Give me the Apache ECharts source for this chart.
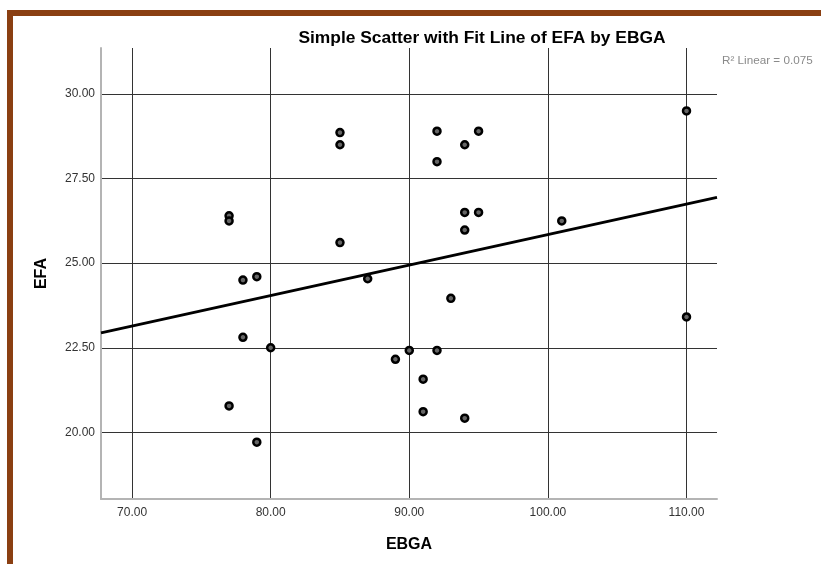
<!DOCTYPE html>
<html>
<head>
<meta charset="utf-8">
<script src="https://cdn.jsdelivr.net/npm/echarts@6/dist/echarts.min.js"></script>
<style>
  html, body { margin: 0; padding: 0; background: #fff; }
  #chart { width: 821px; height: 564px; }
</style>
</head>
<body>
<div id="chart"></div>
<script>
// EBGA (x) and EFA (y) observations
const ebga = [77, 77, 77, 78, 78, 79, 79, 80, 85, 85, 85, 87, 89, 90, 91, 91,
              92, 92, 92, 93, 94, 94, 94, 94, 95, 95, 101, 110, 110];
const efa  = [26.40, 26.25, 20.78, 24.50, 22.81, 24.60, 19.71, 22.50, 28.86, 28.50, 25.61, 24.54, 22.16, 22.42, 21.57, 20.61,
              28.90, 28.00, 22.42, 23.96, 28.50, 26.50, 25.98, 20.42, 28.90, 26.50, 26.25, 29.50, 23.41];

const xTicks = [70, 80, 90, 100, 110];
const yTicks = [20, 22.5, 25, 27.5, 30];
const xRange = [67.76, 112.2];
const yRange = [18.03, 31.36];
const fitLabel = 'R\u00b2 Linear = 0.075';

// Ordinary least squares fit of EFA on EBGA
const n = ebga.length;
const mx = ebga.reduce((a, b) => a + b, 0) / n;
const my = efa.reduce((a, b) => a + b, 0) / n;
let sxy = 0, sxx = 0;
for (let i = 0; i < n; i++) {
  sxy += (ebga[i] - mx) * (efa[i] - my);
  sxx += (ebga[i] - mx) * (ebga[i] - mx);
}
const slope = sxy / sxx;
const intercept = my - slope * mx;
const fitPoints = xRange.map(x => [x, intercept + slope * x]);

const font = '"Liberation Sans", Arial, sans-serif';
const gridColor = '#333333';
const frameColor = '#8a3f12';

const chart = echarts.init(document.getElementById('chart'), null, { renderer: 'canvas' });
chart.setOption({
  animation: false,
  backgroundColor: '#ffffff',
  title: {
    text: 'Simple Scatter with Fit Line of EFA by EBGA',
    left: 477,
    textAlign: 'center',
    top: 25,
    textStyle: { fontFamily: font, fontSize: 17.4, fontWeight: 'bold', color: '#000' }
  },
  graphic: [
    { type: 'rect', shape: { x: 7, y: 10, width: 814, height: 6 }, style: { fill: frameColor } },
    { type: 'rect', shape: { x: 7, y: 10, width: 6, height: 554 }, style: { fill: frameColor } },
    { type: 'text', left: 722, top: 55,
      style: { text: fitLabel, fontFamily: font, fontSize: 11.7, fill: '#8a8a8a' } }
  ],
  grid: { left: 101, right: 104, top: 48, bottom: 65 },
  xAxis: {
    type: 'value',
    min: xRange[0],
    max: xRange[1],
    name: 'EBGA',
    nameLocation: 'middle',
    nameGap: 38,
    nameTextStyle: { fontFamily: font, fontSize: 16, fontWeight: 'bold', color: '#000' },
    axisLine: { show: true, onZero: false, lineStyle: { color: '#b4b4b4', width: 2 } },
    axisTick: { show: false, customValues: xTicks },
    axisLabel: {
      customValues: xTicks, margin: 8,
      fontFamily: font, fontSize: 12, color: '#333',
      formatter: v => v.toFixed(2)
    },
    splitLine: { show: true, lineStyle: { color: gridColor, width: 1 } }
  },
  yAxis: {
    type: 'value',
    min: yRange[0],
    max: yRange[1],
    name: 'EFA',
    nameLocation: 'middle',
    nameGap: 51,
    nameRotate: 90,
    nameTextStyle: { fontFamily: font, fontSize: 16, fontWeight: 'bold', color: '#000' },
    axisLine: { show: true, onZero: false, lineStyle: { color: '#b4b4b4', width: 2 } },
    axisTick: { show: false, customValues: yTicks },
    axisLabel: {
      customValues: yTicks, margin: 6,
      fontFamily: font, fontSize: 12, color: '#333',
      formatter: v => v.toFixed(2)
    },
    splitLine: { show: true, lineStyle: { color: gridColor, width: 1 } }
  },
  series: [
    {
      type: 'line',
      data: fitPoints,
      showSymbol: false,
      symbol: 'none',
      silent: true,
      z: 2,
      lineStyle: { color: '#000', width: 3 }
    },
    {
      type: 'scatter',
      data: ebga.map((x, i) => [x, efa[i]]),
      symbol: 'circle',
      symbolSize: 7,
      z: 3,
      itemStyle: { color: '#666666', borderColor: '#000', borderWidth: 2.5, opacity: 1 }
    }
  ]
});
</script>
</body>
</html>
